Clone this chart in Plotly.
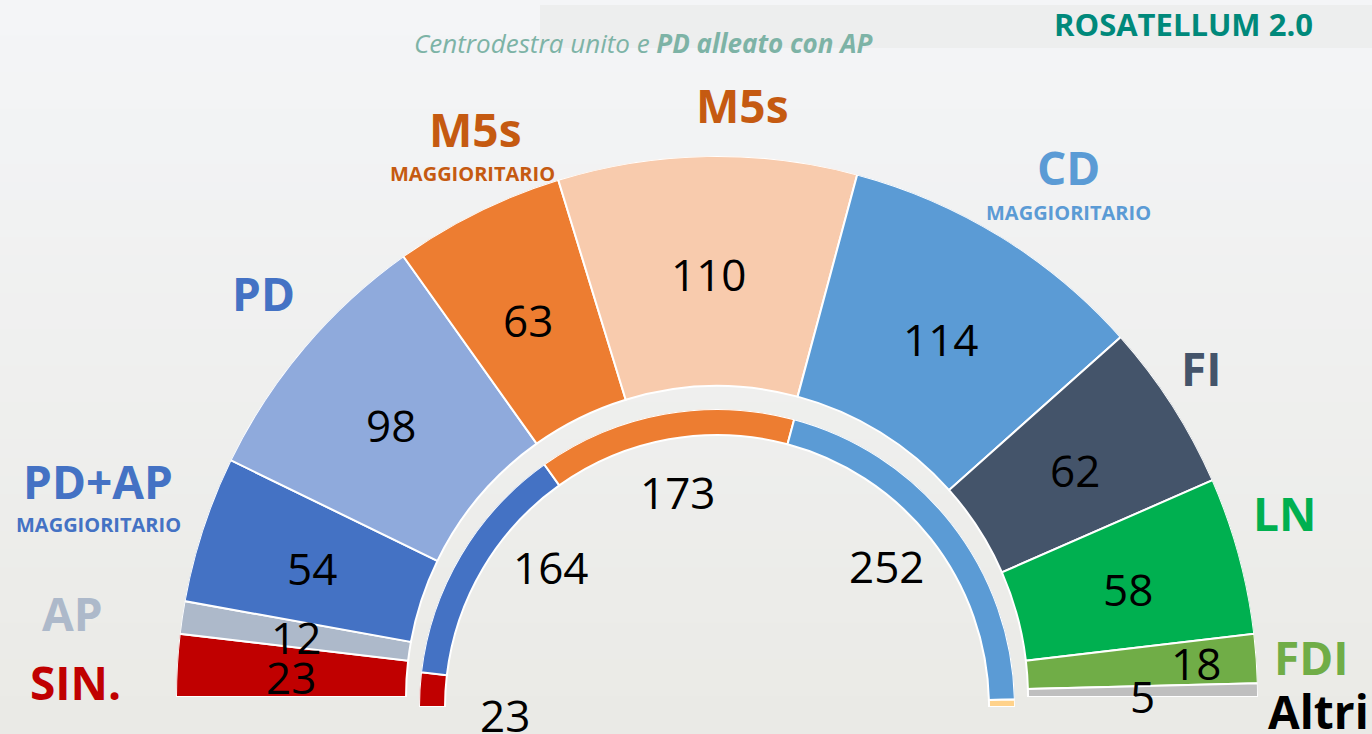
import plotly.graph_objects as go

W, H = 1372, 734

# ---- data ----
outer_parties = ["SIN.", "AP", "PD+AP magg.", "PD", "M5s magg.", "M5s", "CD magg.", "FI", "LN", "FDI", "Altri"]
outer_seats = [23, 12, 54, 98, 63, 110, 114, 62, 58, 18, 5]
outer_colors = ["#C00000", "#ADB9CA", "#4472C4", "#8FAADC", "#ED7D31", "#F8CBAD",
                "#5B9BD5", "#44546A", "#00B050", "#70AD47", "#BFBFBF"]

inner_groups = ["SIN.", "PD+AP", "M5s", "CD", "Altri"]
inner_seats = [23, 164, 173, 252, 5]
inner_colors = ["#C00000", "#4472C4", "#ED7D31", "#5B9BD5", "#FFD28A"]


def px(x, y):
    return x / W, 1 - y / H


def arcs(values):
    total = sum(values)
    thetas, widths, acc = [], [], 0
    for v in values:
        w = v / total * 180
        thetas.append(acc + w / 2)
        widths.append(w)
        acc += w
    return thetas, widths


fig = go.Figure()

# outer ring
t, w = arcs(outer_seats)
fig.add_trace(go.Barpolar(
    theta=t, width=w, r=[230] * len(t), base=[311] * len(t),
    marker=dict(color=outer_colors, line=dict(color="white", width=2)),
    text=outer_parties, hoverinfo="text", subplot="polar", showlegend=False))

# inner ring
t2, w2 = arcs(inner_seats)
fig.add_trace(go.Barpolar(
    theta=t2, width=w2, r=[26] * len(t2), base=[272] * len(t2),
    marker=dict(color=inner_colors, line=dict(color="white", width=2)),
    text=inner_groups, hoverinfo="text", subplot="polar2", showlegend=False))

common_angular = dict(visible=False, direction="clockwise", rotation=180, showgrid=False, showline=False)

x0, y0 = px(176, 697)
x1, y1 = px(1258, 156)
ix0, iy0 = px(419, 707)
ix1, iy1 = px(1015, 409)

fig.update_layout(
    width=W, height=H,
    margin=dict(l=0, r=0, t=0, b=0),
    paper_bgcolor="#F0F1F1",
    plot_bgcolor="rgba(0,0,0,0)",
    polar=dict(domain=dict(x=[x0, x1], y=[y0, y1]), sector=[0, 180], bgcolor="rgba(0,0,0,0)",
               radialaxis=dict(visible=False, range=[0, 541], showgrid=False),
               angularaxis=common_angular),
    polar2=dict(domain=dict(x=[ix0, ix1], y=[iy0, iy1]), sector=[0, 180], bgcolor="rgba(0,0,0,0)",
                radialaxis=dict(visible=False, range=[0, 298], showgrid=False),
                angularaxis=common_angular),
)

# background gradient
def mix(c1, c2, f):
    a = [int(c1[i:i + 2], 16) for i in (1, 3, 5)]
    b = [int(c2[i:i + 2], 16) for i in (1, 3, 5)]
    return "#%02x%02x%02x" % tuple(round(a[k] + (b[k] - a[k]) * f) for k in range(3))

shapes = []
N = 40
for i in range(N):
    shapes.append(dict(type="rect", xref="paper", yref="paper", x0=0, x1=1,
                       y0=1 - (i + 1) / N, y1=1 - i / N + 0.002,
                       fillcolor=mix("#F4F5F7", "#EAEAE6", i / (N - 1)),
                       line=dict(width=0), layer="below"))
bx0, by0 = px(540, 48)
bx1, by1 = px(1372, 5)
shapes.append(dict(type="rect", xref="paper", yref="paper", x0=bx0, x1=bx1, y0=by0, y1=by1,
                   fillcolor="#EDEEEE", line=dict(width=0), layer="below"))
fig.update_layout(shapes=shapes)

FONT = "Open Sans"
ann = []

def label(x, y, text, size, color, bold=False, italic=False):
    xx, yy = px(x, y)
    t = text
    if bold:
        t = "<b>" + t + "</b>"
    if italic:
        t = "<i>" + t + "</i>"
    ann.append(dict(x=xx, y=yy, xref="paper", yref="paper", text=t, showarrow=False,
                    xanchor="center", yanchor="middle",
                    font=dict(family=FONT, size=size, color=color)))

# header
label(1183, 24, "ROSATELLUM 2.0", 31, "#00897B", bold=True)
xx, yy = px(643, 23)
ann.append(dict(x=xx, y=yy, xref="paper", yref="paper", showarrow=False,
                text="<i>Centrodestra unito e <b>PD alleato con AP</b></i>",
                font=dict(family=FONT, size=26, color="#7DB3A6")))

# party labels
PS = 46
MS = 20
label(263, 293, "PD", PS, "#4472C4", bold=True)
label(98, 481, "PD+AP", PS, "#4472C4", bold=True)
label(98, 524, "MAGGIORITARIO", MS, "#4472C4", bold=True)
label(72, 613, "AP", PS, "#ADB9CA", bold=True)
label(75, 682, "SIN.", PS, "#C00000", bold=True)
label(475, 129, "M5s", PS, "#C55A11", bold=True)
label(473, 173, "MAGGIORITARIO", MS, "#C55A11", bold=True)
label(742, 105, "M5s", PS, "#C55A11", bold=True)
label(1068, 167, "CD", PS, "#5B9BD5", bold=True)
label(1068, 212, "MAGGIORITARIO", MS, "#5B9BD5", bold=True)
label(1201, 368, "FI", PS, "#44546A", bold=True)
label(1284, 513, "LN", PS, "#00B050", bold=True)
label(1311, 657, "FDI", PS, "#70AD47", bold=True)
label(1318, 711, "Altri", PS, "#000000", bold=True)

NS = 44
# seat numbers (outer)
outer_pos = [(291, 677), (296, 637), (312, 568), (391, 425), (528, 320), (708, 274),
             (941, 339), (1075, 470), (1128, 589), (1196, 663), (1142, 696)]
for (x, y), v in zip(outer_pos, outer_seats):
    label(x, y, str(v), NS, "#000000")

# seat numbers (inner)
inner_pos = [(505, 715), (550, 567), (677, 492), (887, 566)]
for (x, y), v in zip(inner_pos, inner_seats[:4]):
    label(x, y, str(v), NS, "#000000")

fig.update_layout(annotations=ann)
fig.write_html("out.html", config={"displayModeBar": False},
               post_script="document.body.style.margin='0px';")
